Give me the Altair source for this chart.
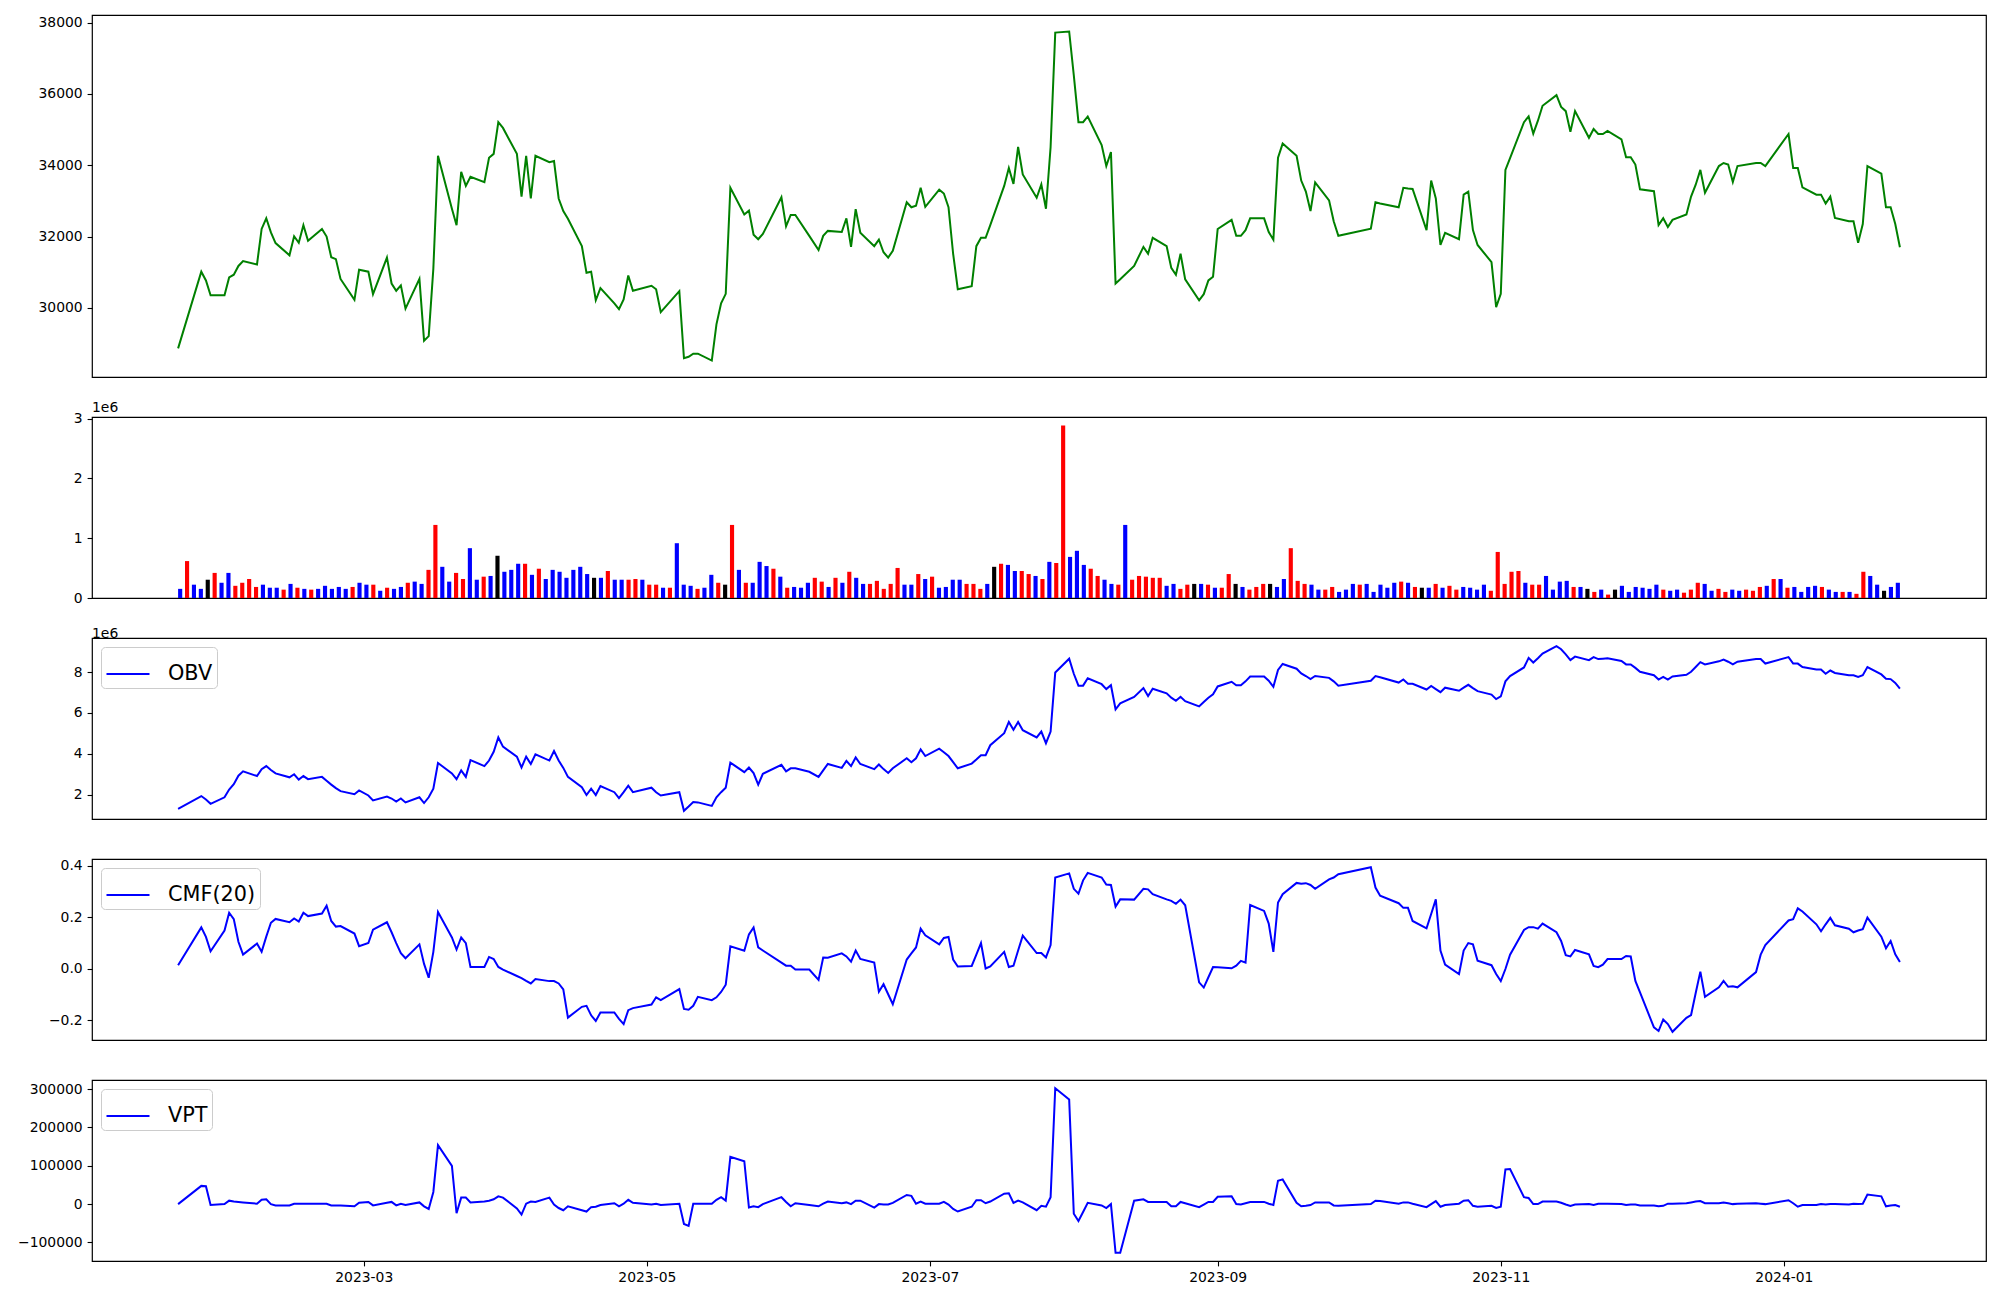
import altair as alt
import pandas as pd

# ---------------- trading calendar (KRX holidays removed) ----------------
HOLIDAYS = ["2023-01-23", "2023-01-24", "2023-03-01", "2023-05-01", "2023-05-05",
            "2023-05-29", "2023-06-06", "2023-08-15", "2023-09-28", "2023-09-29",
            "2023-10-02", "2023-10-03", "2023-10-09", "2023-12-25", "2023-12-29",
            "2024-01-01"]
DATES = pd.bdate_range("2023-01-20", "2024-01-26", freq="C", holidays=HOLIDAYS)

# ---------------- close price ----------------
PRICE = [
    28862, 31013, 30767, 30350, 30350, 30853,
    30928, 31174, 31313, 31216, 32212, 32511, 32115, 31816, 31473, 32008,
    31826, 32318, 31880, 32212, 31998, 31420, 31366, 30810, 30222, 31067,
    31013, 30382, 31409, 30681, 30478, 30628, 29975, 30810, 29077, 29205, 31100,
    34266, 32779, 32319, 33817, 33421, 33677, 33528, 34212, 34319, 35208, 35047,
    34319, 33121, 34266, 33067, 34266, 34084, 34116, 33067, 32714, 32500,
    31730, 30981, 31013, 30211, 30553, 30125, 29964, 30232, 30906, 30478,
    30617, 30521, 29879, 30467, 28584, 28627, 28713, 28713, 28520, 29537,
    30125, 30392, 33367, 32618, 32725, 32051, 31923, 32072, 33100, 32286,
    32607, 32607, 32019, 31623, 32019, 32158, 32126, 32511, 31709, 32768, 32105,
    31730, 31912, 31559, 31409, 31602, 32961, 32821, 32864, 33367, 32832,
    33314, 33207, 32821, 31516, 30521, 30607, 31730, 31965, 31965, 32319, 33420,
    33924, 33474, 34512, 33742, 33089, 33463, 32779, 34512, 37722, 37754,
    36524, 35208, 35208, 35368, 34566, 33977, 34373, 30681, 30799, 31174, 31709,
    31516, 31965, 31730, 31120, 30928, 31516, 30799, 30211, 30382, 30767, 30874,
    32212, 32468, 32019, 32019, 32179, 32511, 32511, 32126, 31912, 34212,
    34608, 34266, 33570, 33260, 32714, 33517, 33014, 32426, 32019,
    32222, 32961, 32928, 32821, 33367, 33346, 33335, 32179, 33570, 33067,
    31762, 32105, 31923, 33175, 33260, 32179, 31762, 31281, 30018,
    30393, 33870, 34202, 35208, 35368, 34886, 35250, 35668, 35967, 35636, 35518,
    34940, 35518, 34769, 35015, 34876, 34876, 34961, 34726, 34223, 34223, 34020,
    33324, 33271, 32319, 32511, 32265, 32468, 32618, 33121, 33453, 33870,
    33228, 33977, 34063, 34020, 33528, 33977, 34063, 34063, 33977,
    34876, 33924, 33924, 33378, 33175, 33175, 32928, 33121, 32522, 32426,
    32426, 31826, 32351, 33977, 33763, 32821, 32821, 32351, 31698,
]

# ---------------- volume (thousands of shares) ----------------
VOLUME_K = [
    153, 618, 223, 153, 306, 420, 255, 420, 204, 255,
    318, 185, 223, 172, 172, 140, 236, 172, 153, 140,
    153, 204, 153, 185, 153, 185, 255, 223, 223, 121,
    172, 153, 185, 255, 274, 236, 471, 1223, 522, 274,
    420, 318, 834, 306, 357, 369, 707, 439, 471, 573,
    573, 388, 490, 318, 471, 439, 338, 471, 522, 401,
    338, 338, 452, 306, 306, 306, 318, 306, 223, 223,
    172, 172, 917, 223, 204, 153, 172, 388, 255, 223,
    1223, 471, 255, 255, 605, 535, 490, 357, 172, 185,
    172, 255, 338, 274, 185, 338, 255, 439, 338, 236,
    236, 287, 153, 236, 503, 223, 223, 401, 318, 357,
    172, 185, 306, 306, 236, 236, 153, 236, 522, 573,
    554, 452, 452, 401, 369, 318, 605, 586, 2885, 688,
    790, 554, 490, 369, 306, 236, 223, 1223, 306, 369,
    357, 338, 338, 204, 236, 153, 223, 236, 236, 223,
    172, 172, 401, 236, 185, 140, 185, 236, 236, 185,
    318, 834, 287, 236, 223, 140, 140, 185, 102, 140,
    236, 223, 236, 102, 223, 172, 255, 274, 255, 185,
    172, 172, 236, 172, 204, 140, 185, 172, 140, 223,
    121, 771, 236, 439, 452, 255, 223, 223, 369, 140,
    274, 287, 185, 185, 153, 102, 140, 57, 140, 204,
    102, 185, 172, 153, 223, 140, 121, 140, 89, 140,
    255, 236, 121, 153, 102, 140, 121, 140, 121, 185,
    204, 318, 318, 172, 185, 102, 185, 204, 185, 140,
    102, 102, 102, 70, 439, 369, 223, 121, 185, 255,
]

# bar colour codes: r = up, b = down, k = unchanged
BAR_CODES = [
    "brbbkrbbrr", "rrbbbrbrbr", "bbbbbrbbrb", "rbbrbbrrbb", "rrbbrbkbbb",
    "rbrbbbbbbb", "kbrbbrrbrr", "brbbbrbbrk", "rbrbbbrbrb", "bbrrbrbrbb",
    "rrrrrbbrbr", "bbbbrrrbkr", "bbrrbrbrrb", "bbrrbbrbrr", "rrrbbrrkbr",
    "brrkbrrrkb", "brrrbbrrbb", "brbbbbbrbr", "kbrbrrbbbb", "rrrrrbrrbb",
    "bbrbkrbrkb", "bbbbbrbbrr", "rbbrrbbrrr", "brbrbbbbrb", "brbrrbbkbb",
]
CODE_COLORS = {"r": "#ff0000", "b": "#0000ff", "k": "#000000"}

# ---------------- OBV (millions) ----------------
OBV_M = [
    1.30, 1.93, 1.76, 1.55, 1.87, 2.25,
    2.51, 2.93, 3.14, 2.91, 3.25, 3.40, 3.21, 3.04, 2.85, 3.00,
    2.74, 2.91, 2.76, 2.87, 2.68, 2.49, 2.32, 2.17, 2.02, 2.21,
    1.96, 1.72, 1.91, 1.81, 1.66, 1.81, 1.62, 1.87, 1.59, 1.87, 2.29,
    3.55, 3.04, 2.76, 3.19, 2.87, 3.69, 3.40, 3.67, 4.10, 4.80, 4.35,
    3.86, 3.33, 3.86, 3.50, 3.97, 3.67, 4.14, 3.67, 3.31, 2.87,
    2.36, 1.98, 2.29, 1.98, 2.42, 2.12, 1.83, 2.12, 2.44, 2.12,
    2.34, 2.12, 1.96, 2.12, 1.21, 1.42, 1.64, 1.62, 1.45, 1.87,
    2.12, 2.34, 3.57, 3.10, 3.33, 3.06, 2.49, 3.02, 3.46, 3.14,
    3.29, 3.29, 3.12, 2.87, 3.19, 3.50, 3.31, 3.65, 3.40, 3.82, 3.50,
    3.25, 3.48, 3.25, 3.06, 3.29, 3.78, 3.59, 3.78, 4.22, 3.89,
    4.25, 4.08, 3.89, 3.59, 3.29, 3.52, 3.72, 3.93, 3.93, 4.42, 5.01,
    5.56, 5.18, 5.56, 5.16, 4.80, 5.09, 4.52, 5.09, 7.98, 8.66,
    7.92, 7.34, 7.34, 7.70, 7.41, 7.17, 7.36, 6.18, 6.47, 6.79, 7.22,
    6.83, 7.19, 6.96, 6.75, 6.60, 6.79, 6.58, 6.32, 6.54, 6.75, 6.92,
    7.30, 7.53, 7.36, 7.36, 7.55, 7.79, 7.79, 7.58, 7.28, 8.11,
    8.40, 8.17, 7.94, 7.81, 7.66, 7.81, 7.72, 7.55, 7.34,
    7.58, 7.81, 7.75, 7.49, 7.64, 7.43, 7.43, 7.15, 7.32, 7.17,
    7.02, 7.24, 7.09, 7.24, 7.38, 7.22, 7.07, 6.90, 6.68,
    6.81, 7.55, 7.81, 8.23, 8.70, 8.47, 8.68, 8.91, 9.27, 9.12, 8.87,
    8.59, 8.76, 8.59, 8.74, 8.64, 8.66, 8.68, 8.55, 8.38, 8.38, 8.21,
    8.02, 7.85, 7.64, 7.77, 7.64, 7.79, 7.87, 8.02, 8.25, 8.49,
    8.38, 8.53, 8.62, 8.51, 8.38, 8.51, 8.64, 8.64, 8.42,
    8.74, 8.42, 8.42, 8.25, 8.13, 8.13, 7.92, 8.08, 7.96, 7.85,
    7.85, 7.77, 7.85, 8.25, 7.89, 7.68, 7.66, 7.47, 7.19,
]

# ---------------- CMF(20) ----------------
CMF = [
    0.014, 0.161, 0.124, 0.068, 0.149, 0.218,
    0.193, 0.105, 0.055, 0.098, 0.066, 0.125, 0.179, 0.194, 0.181, 0.196,
    0.184, 0.218, 0.205, 0.215, 0.245, 0.186, 0.164, 0.166, 0.137, 0.088,
    0.100, 0.152, 0.181, 0.142, 0.100, 0.061, 0.041, 0.095, 0.019, -0.035, 0.066,
    0.221, 0.122, 0.075, 0.122, 0.100, 0.007, 0.007, 0.046, 0.038, 0.007, -0.003,
    -0.028, -0.036, -0.047, -0.057, -0.040, -0.048, -0.048, -0.057, -0.080, -0.190,
    -0.148, -0.144, -0.181, -0.203, -0.170, -0.170, -0.195, -0.215, -0.161, -0.153,
    -0.139, -0.111, -0.122, -0.079, -0.156, -0.159, -0.144, -0.109, -0.122, -0.111,
    -0.090, -0.062, 0.087, 0.070, 0.134, 0.161, 0.083, 0.071, 0.024, 0.012,
    0.012, -0.003, -0.003, -0.043, 0.044, 0.043, 0.060, 0.048, 0.028, 0.071, 0.038,
    0.024, -0.089, -0.060, -0.099, -0.138, 0.036, 0.060, 0.083, 0.156, 0.130,
    0.095, 0.120, 0.124, 0.036, 0.009, 0.011, 0.055, 0.100, 0.001, 0.009, 0.066,
    0.007, 0.012, 0.071, 0.129, 0.061, 0.061, 0.044, 0.092, 0.355, 0.371,
    0.311, 0.292, 0.344, 0.373, 0.355, 0.328, 0.326, 0.242, 0.270, 0.269, 0.311,
    0.309, 0.290, 0.270, 0.264, 0.253, 0.269, 0.247, -0.053, -0.073, -0.033, 0.007,
    0.006, 0.002, 0.012, 0.031, 0.024, 0.248, 0.225, 0.176, 0.066, 0.258,
    0.290, 0.334, 0.331, 0.333, 0.326, 0.311, 0.348, 0.355, 0.368,
    0.395, 0.316, 0.284, 0.255, 0.237, 0.237, 0.186, 0.157, 0.213, 0.270,
    0.071, 0.016, -0.021, 0.071, 0.100, 0.095, 0.031, 0.014, -0.020,
    -0.048, -0.001, 0.055, 0.151, 0.162, 0.162, 0.156, 0.176, 0.142, 0.108, 0.053,
    0.048, 0.073, 0.056, 0.011, 0.006, 0.016, 0.038, 0.038, 0.050, 0.048, -0.047,
    -0.092, -0.228, -0.242, -0.197, -0.215, -0.245, -0.191, -0.180, -0.094, -0.011,
    -0.109, -0.072, -0.047, -0.070, -0.068, -0.072, -0.013, 0.055, 0.092,
    0.188, 0.193, 0.235, 0.223, 0.173, 0.146, 0.173, 0.198, 0.169, 0.156,
    0.142, 0.149, 0.154, 0.199, 0.125, 0.080, 0.108, 0.056, 0.026,
]

# ---------------- VPT (thousands) ----------------
VPT_K = [
    0, 47.6, 46.5, -2.3, 0, 9,
    6.8, 5.7, 4.5, 1.1, 11.3, 12.5, 0, -3.4, -3.4, 1.1,
    1.1, 1.1, 1.1, 1.1, 1.1, -3.4, -3.4, -3.4, -5.7, 3.4,
    5.7, -3.4, 3.4, 5.7, -3.4, 1.1, -2.3, 4.5, -5.7, -12.5, 31.7,
    154, 99.7, -23.8, 17, 17, 4.5, 6.8, 9, 12.5, 20.4, 17,
    -11.3, -27.2, 1.1, 6.8, 5.7, 17, -1.1, -10.2, -15.9, -5.7,
    -15.9, -19.3, -7.9, -6.8, -2.3, 2.3, -5.7, 1.1, 11.3, 3.4,
    -1.1, 1.1, -2.3, 1.1, -52, -56.7, 1.1, 1.1, 1.1, 11.3,
    18.1, 9, 123.5, 112, -9, -5.7, -7.9, 0, 18.1, 5.7,
    -5.7, 2.3, -2.3, -5.7, 1.1, 6.8, 2.3, 4.5, 0, 9, 9,
    -9, 0, -1.1, -1.1, 3.4, 23.8, 21.5, 1.1, 6.8, 1.1,
    1.1, 5.7, -1.1, -12.5, -19.3, -6.8, 10.2, 10.2, 2.3, 6.8, 27.2,
    28.3, 3.4, 9, 4.5, -15.9, -4.5, -6.8, 18.1, 302.5, 273,
    -24.9, -44.2, -20.4, 3.4, -3.4, -10.2, 0, -127, -127, 9, 12.5,
    5.7, 5.7, 5.7, -5.7, -5.7, 5.7, 2.3, -7.9, -1.1, 5.7, 5.7,
    19.3, 20.4, 0, -1.1, 2.3, 5.7, 5.7, 1.1, -2.3, 61.2,
    64.6, 3.4, -5.7, -4.5, -2.3, 4.5, 4.5, -3.4, -4.5,
    0, 9, 7.9, 1.1, 4.5, 4.5, 1.1, -7.9, 0, 7.9,
    -6.8, -2.3, 1.1, 9, 10.2, -4.5, -6.8, -4.5, -10.2,
    -6.8, 90.6, 91.8, 18.1, 15.9, 0, 0, 6.8, 6.8, 3.4, -1.1,
    -4.5, -1.1, 0, -2.3, 1.1, 1.1, 1.1, 0, -2.3, -1.1, -1.1,
    -3.4, -3.4, -5.7, -4.5, 1.1, 1.1, 2.3, 4.5, 6.8, 7.9,
    2.3, 2.3, 4.5, 2.3, 0, 1.1, 2.3, 1.1, 0,
    10.2, 2.3, -6.8, -2.3, -2.3, 0, -1.1, 0, 0, -1.1,
    1.1, 0, 1.1, 24.9, 20.4, -5.7, -3.4, -2.3, -6.8,
]

X_TICKS = ["2023-03-01", "2023-05-01", "2023-07-01", "2023-09-01", "2023-11-01", "2024-01-01"]

# ---------------- table ----------------
codes = "".join(BAR_CODES)
df = pd.DataFrame({
    "date": DATES.strftime("%Y-%m-%d"),
    "idx": list(range(len(DATES))),
    "price": PRICE,
    "volume": [v * 1000 for v in VOLUME_K],
    "bar_color": [CODE_COLORS[c] for c in codes],
    "obv": [v * 1e6 for v in OBV_M],
    "cmf": CMF,
    "vpt": [v * 1000 for v in VPT_K],
})


def ms(s):
    return int(pd.Timestamp(s).value // 10**6)


def padded(lo, hi, frac=0.05):
    m = (hi - lo) * frac
    return [lo - m, hi + m]


t_first, t_last = ms(DATES[0]), ms(DATES[-1])
T_DOMAIN = padded(t_first, t_last)
n = len(DATES)
IDX_DOMAIN = padded(-0.3, n - 1 + 0.3)

FONT = "DejaVu Sans"
FS = 13.9
W = 1894
H_MAIN = 362
H_SUB = 181
TICK = 4.9
FRAME = alt.ViewBackground(stroke="#000000", strokeWidth=1.2, strokeOpacity=1)


def y_axis(values, fmt=None, label_expr=None):
    kw = dict(values=values, title=None, grid=False, domain=False, tickSize=TICK,
              tickWidth=1.1, tickColor="black", labelPadding=TICK, labelFontSize=FS,
              labelFont=FONT, labelColor="black", labelFlush=False, labelOverlap=False)
    if fmt is not None:
        kw["format"] = fmt
    if label_expr is not None:
        kw["labelExpr"] = label_expr
    return alt.Axis(**kw)


x_time_hidden = alt.X("date:T", scale=alt.Scale(type="utc", domain=T_DOMAIN, nice=False), axis=None)

legend_kw = dict(orient="top-left", offset=9, title=None, labelFont=FONT, labelFontSize=20.8,
                 labelColor="black", symbolType="stroke", symbolSize=1850, symbolStrokeWidth=2,
                 labelOffset=17, padding=4, fillColor="white", strokeColor="#cccccc",
                 cornerRadius=4)

offset_title = dict(anchor="start", frame="group", fontSize=FS, font=FONT, fontWeight="normal",
                    color="black", offset=-3)

# ---- price ----
price_chart = alt.Chart(df).mark_line(color="#008000", strokeWidth=2).encode(
    x=x_time_hidden,
    y=alt.Y("price:Q", scale=alt.Scale(domain=padded(min(PRICE), max(PRICE)), nice=False, zero=False),
            axis=y_axis([30000, 32000, 34000, 36000, 38000], fmt="d")),
).properties(width=W, height=H_MAIN, view=FRAME)

# ---- volume ----
vol_chart = alt.Chart(df).transform_calculate(
    x0="datum.idx - 0.3", x1="datum.idx + 0.3", base="0"
).mark_rect().encode(
    x=alt.X("x0:Q", scale=alt.Scale(domain=IDX_DOMAIN, nice=False, zero=False), axis=None),
    x2="x1:Q",
    y=alt.Y("volume:Q", scale=alt.Scale(domain=[0, max(VOLUME_K) * 1000 * 1.05], nice=False),
            axis=y_axis([0, 1e6, 2e6, 3e6], label_expr="format(datum.value / 1000000, 'd')")),
    y2="base:Q",
    color=alt.Color("bar_color:N", scale=None),
).properties(width=W, height=H_SUB, view=FRAME, title=alt.TitleParams("1e6", **offset_title))


def indicator(field, name, domain, axis, x_enc, title=None):
    props = dict(width=W, height=H_SUB, view=FRAME)
    if title is not None:
        props["title"] = title
    return alt.Chart(df).transform_calculate(series=f"'{name}'").mark_line(strokeWidth=2).encode(
        x=x_enc,
        y=alt.Y(f"{field}:Q", scale=alt.Scale(domain=domain, nice=False, zero=False), axis=axis),
        color=alt.Color("series:N", scale=alt.Scale(domain=[name], range=["#0000ff"]),
                        legend=alt.Legend(**legend_kw)),
    ).properties(**props)


obv_vals = [v * 1e6 for v in OBV_M]
obv_chart = indicator("obv", "OBV", padded(min(obv_vals), max(obv_vals)),
                      y_axis([2e6, 4e6, 6e6, 8e6], label_expr="format(datum.value / 1000000, 'd')"),
                      x_time_hidden, title=alt.TitleParams("1e6", **offset_title))

cmf_chart = indicator("cmf", "CMF(20)", padded(min(CMF), max(CMF)),
                      y_axis([-0.2, 0.0, 0.2, 0.4], fmt=".1f"), x_time_hidden)

vpt_vals = [v * 1000 for v in VPT_K]
x_time_axis = alt.X(
    "date:T",
    scale=alt.Scale(type="utc", domain=T_DOMAIN, nice=False),
    axis=alt.Axis(values=[ms(s) for s in X_TICKS], labelExpr="utcFormat(datum.value, '%Y-%m')",
                  title=None, grid=False, domain=False, tickSize=TICK, tickWidth=1.1,
                  tickColor="black", labelPadding=TICK, labelFontSize=FS, labelFont=FONT,
                  labelColor="black", labelFlush=False, labelOverlap=False),
)
vpt_chart = indicator("vpt", "VPT", padded(min(vpt_vals), max(vpt_vals)),
                      y_axis([-100000, 0, 100000, 200000, 300000], fmt="d"), x_time_axis)

chart = alt.vconcat(
    price_chart, vol_chart, obv_chart, cmf_chart, vpt_chart, spacing=40, bounds="flush"
).resolve_scale(
    color="independent", x="independent", y="independent"
).resolve_legend(
    color="independent"
).properties(
    padding={"left": 8, "top": 6, "right": 5, "bottom": 5}
).configure_view(
    stroke="#000000", strokeWidth=1.2, strokeOpacity=1
).configure(background="white")

chart.save("out.html", embed_options={"renderer": "svg", "actions": False})
